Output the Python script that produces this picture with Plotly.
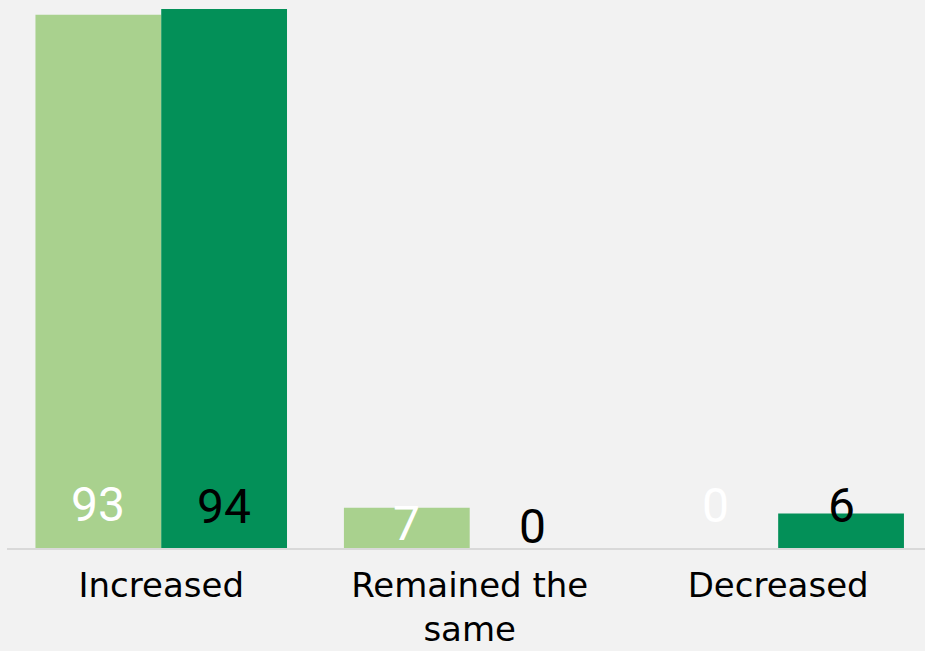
import plotly.graph_objects as go

categories = ["Increased", "Remained the<br>same", "Decreased"]
series_a = [93, 7, 0]
series_b = [94, 0, 6]

LIGHT = "#a9d18e"
DARK = "#039058"
BG = "#f2f2f2"

fig = go.Figure()
fig.add_trace(go.Bar(x=categories, y=series_a, marker=dict(color=LIGHT, line=dict(width=0)),
                     name="A", hoverinfo="skip"))
fig.add_trace(go.Bar(x=categories, y=series_b, marker=dict(color=DARK, line=dict(width=0)),
                     name="B", hoverinfo="skip"))

# label placement (style): y position of label centres in data units
label_y_a = [7.5, 4.2, 7.4]
label_y_b = [7.3, 3.75, 7.4]
off = 63 / 308.5
LBL_FONT = "Roboto, sans-serif"
annos = []
for i in range(len(categories)):
    annos.append(dict(x=i - off, y=label_y_a[i], xref="x", yref="y", text=str(series_a[i]),
                      showarrow=False, font=dict(family=LBL_FONT, size=48, color="white"),
                      yanchor="middle"))
    annos.append(dict(x=i + off, y=label_y_b[i], xref="x", yref="y", text=str(series_b[i]),
                      showarrow=False, font=dict(family=LBL_FONT, size=48, color="black"),
                      yanchor="middle"))

fig.update_layout(
    width=925, height=651,
    margin=dict(l=7, r=0, t=0, b=103, autoexpand=False),
    paper_bgcolor=BG, plot_bgcolor=BG,
    barmode="group", bargap=0.1845, bargroupgap=0,
    showlegend=False,
    annotations=annos,
    xaxis=dict(type="category", range=[-0.5, 2.476], showline=True, linecolor="#d9d9d9", linewidth=2,
               ticks="", showgrid=False, zeroline=False, ticklabelstandoff=6, automargin=False,
               tickfont=dict(family="DejaVu Sans", size=34, color="black")),
    yaxis=dict(range=[0, 95.57], visible=False, showgrid=False, zeroline=False, automargin=False),
)

fig.write_html("out.html", config={"displayModeBar": False},
               post_script="document.body.style.margin='0';document.body.style.padding='0';document.body.style.overflow='hidden';")
